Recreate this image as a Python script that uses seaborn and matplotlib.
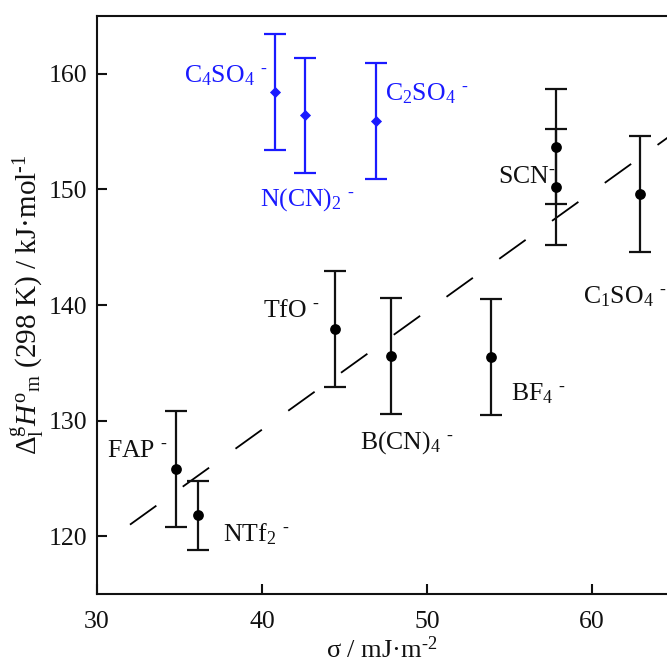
import numpy as np
import pandas as pd
import matplotlib
matplotlib.use("Agg")
import matplotlib.pyplot as plt
import seaborn as sns

# ---- data ----
anions_black = ["FAP", "NTf2", "TfO", "B(CN)4", "BF4", "SCN_a", "SCN_b", "C1SO4"]
sigma_black = [34.8, 36.1, 44.4, 47.8, 53.9, 57.8, 57.8, 62.9]
dH_black = [125.8, 121.8, 137.9, 135.6, 135.5, 153.7, 150.2, 149.6]
err_black = [5.0, 3.0, 5.0, 5.0, 5.0, 5.0, 5.0, 5.0]

anions_blue = ["C4SO4", "N(CN)2", "C2SO4"]
sigma_blue = [40.8, 42.6, 46.9]
dH_blue = [158.4, 156.4, 155.9]
err_blue = [5.0, 5.0, 5.0]

fit_x = [32.0, 65.0]
fit_y = [121.0, 154.9]

x_ticks = [30, 40, 50, 60]
y_ticks = [120, 130, 140, 150, 160]

sns.set_theme(style="ticks")
plt.rcParams["font.family"] = ["Liberation Serif", "DejaVu Serif"]
plt.rcParams["mathtext.fontset"] = "custom"
plt.rcParams["mathtext.rm"] = "Liberation Serif"
plt.rcParams["mathtext.it"] = "Liberation Serif:italic"
plt.rcParams["mathtext.bf"] = "Liberation Serif:bold"

BLUE = "#1a1aff"
INK = "#111111"
FS = 18.5

fig = plt.figure(figsize=(6.67, 6.64), dpi=100)
ax = fig.add_axes([0.1454, 0.1054, 1.0 - 0.1454, 0.9759 - 0.1054])

dfb = pd.DataFrame({"sigma": sigma_black, "dH": dH_black, "err": err_black})
dfu = pd.DataFrame({"sigma": sigma_blue, "dH": dH_blue, "err": err_blue})
dff = pd.DataFrame({"x": fit_x, "y": fit_y})

sns.lineplot(data=dff, x="x", y="y", ax=ax, color="black", lw=1.3,
             dashes=False, zorder=1).lines[0].set_dashes([18, 18])

ax.errorbar(dfb["sigma"], dfb["dH"], yerr=dfb["err"], fmt="none",
            ecolor=INK, elinewidth=1.6, capsize=8, capthick=1.6, zorder=2)
ax.errorbar(dfu["sigma"], dfu["dH"], yerr=dfu["err"], fmt="none",
            ecolor=BLUE, elinewidth=1.6, capsize=8, capthick=1.6, zorder=2)

sns.scatterplot(data=dfb, x="sigma", y="dH", ax=ax, color="black", s=60,
                marker="o", edgecolor="black", linewidth=0, zorder=3)
sns.scatterplot(data=dfu, x="sigma", y="dH", ax=ax, color=BLUE, s=32,
                marker="D", edgecolor=BLUE, linewidth=0, zorder=3)

sup = r"$^{\text{-}}$"
labels = [
    (r"C$_4$SO$_4$ " + sup, 35.27, 159.22, BLUE),
    (r"N(CN)$_2$ " + sup, 39.88, 148.6, BLUE),
    (r"C$_2$SO$_4$ " + sup, 47.45, 157.67, BLUE),
    (r"SCN" + sup, 54.32, 150.53, INK),
    (r"C$_1$SO$_4$ " + sup, 59.47, 140.1, INK),
    (r"TfO " + sup, 40.08, 138.96, INK),
    (r"B(CN)$_4$ " + sup, 45.94, 127.6, INK),
    (r"BF$_4$ " + sup, 55.09, 131.76, INK),
    (r"FAP " + sup, 30.59, 126.81, INK),
    (r"NTf$_2$ " + sup, 37.62, 119.53, INK),
]
for txt, lx, ly, c in labels:
    ax.text(lx, ly, txt, color=c, fontsize=FS, ha="left", va="baseline")

ax.set_xlim(30, 64.55)
ax.set_ylim(115, 165)
ax.set_xticks(x_ticks)
ax.set_yticks(y_ticks)
ax.tick_params(direction="in", length=7, width=1.5, labelsize=FS, colors=INK)
ax.tick_params(axis="x", pad=12)
ax.tick_params(axis="y", pad=7)
for s in ["left", "bottom", "top"]:
    ax.spines[s].set_linewidth(1.5)
    ax.spines[s].set_color(INK)
ax.spines["right"].set_visible(False)

ax.set_xlabel(r"σ / mJ·m$^{\text{-2}}$", fontsize=19, color=INK, labelpad=3)
ax.set_ylabel(r"$\Delta_{\mathrm{l}}^{\mathrm{g}}H^{\mathrm{o}}{}_{\mathrm{m}}$ (298 K) / kJ·mol$^{\text{-1}}$",
              fontsize=21, color=INK, labelpad=2)

fig.savefig("out.png", dpi=100)
